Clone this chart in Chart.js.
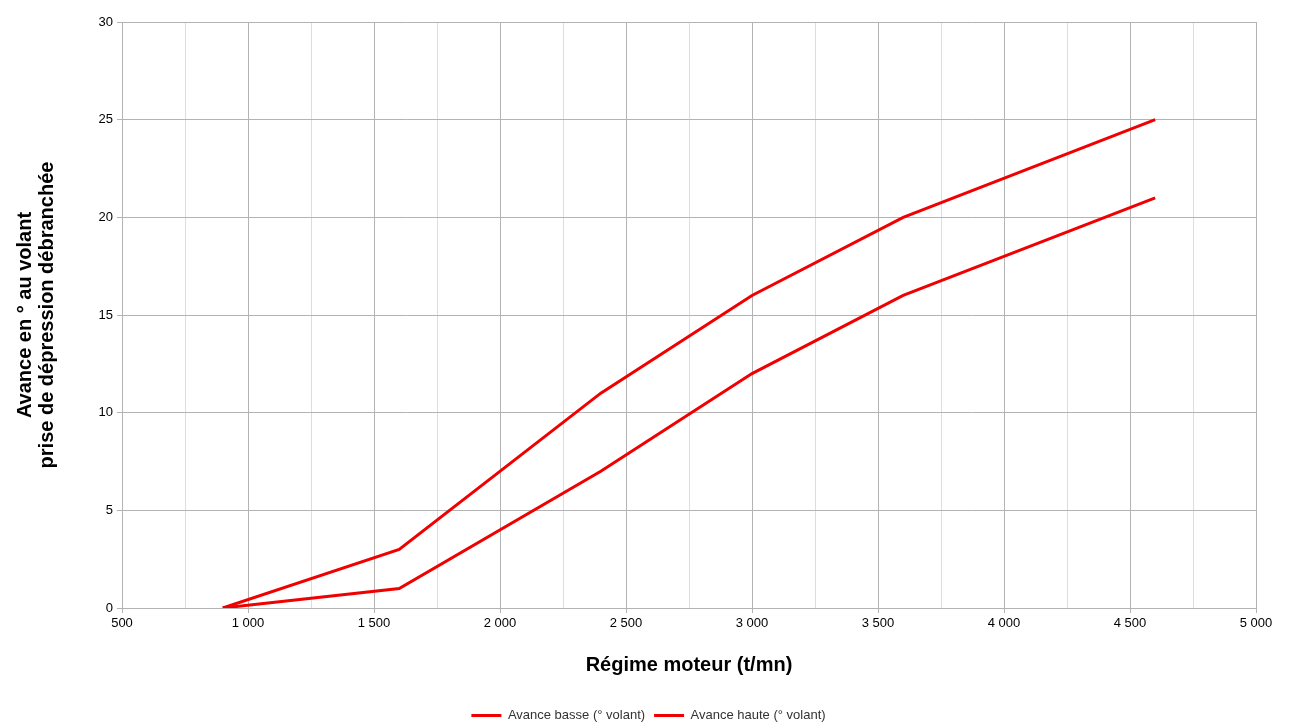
<!DOCTYPE html>
<html>
<head>
<meta charset="utf-8">
<script src="https://cdn.jsdelivr.net/npm/chart.js@4/dist/chart.umd.min.js"></script>
<style>
  html, body { margin: 0; padding: 0; background: #fff; }
  #wrap { width: 1297px; height: 726px; }
</style>
</head>
<body>
<div id="wrap"><canvas id="chart" width="1297" height="726"></canvas></div>
<script>
const regime = [900, 1600, 2400, 3000, 3600, 4600];
const avanceBasse = [0, 1, 7, 12, 16, 21];
const avanceHaute = [0, 3, 11, 16, 20, 25];
const seriesNames = ['Avance basse (° volant)', 'Avance haute (° volant)'];
const xTitle = 'Régime moteur (t/mn)';
const yTitle = ['Avance en ° au volant', 'prise de dépression débranchée'];

const MAJOR = '#b3b3b3';
const MINOR = '#dddddd';
const RED = '#f00000';

function fmt(v) {
    return String(v).replace(/\B(?=(\d{3})+(?!\d))/g, ' ');
}
function pts(ys) {
    return regime.map((x, i) => ({ x: x, y: ys[i] }));
}

new Chart(document.getElementById('chart').getContext('2d'), {
    type: 'line',
    data: {
        datasets: [
            { label: seriesNames[0], data: pts(avanceBasse), borderColor: RED, backgroundColor: RED, borderWidth: 3, pointRadius: 0, tension: 0 },
            { label: seriesNames[1], data: pts(avanceHaute), borderColor: RED, backgroundColor: RED, borderWidth: 3, pointRadius: 0, tension: 0 }
        ]
    },
    options: {
        responsive: false,
        animation: false,
        layout: { padding: { left: 0, right: 0, top: 22, bottom: -6 } },
        plugins: {
            tooltip: { enabled: false },
            legend: {
                position: 'bottom',
                labels: {
                    usePointStyle: true, pointStyle: 'line', pointStyleWidth: 30, boxHeight: 13,
                    color: '#333', font: { family: 'Liberation Sans', size: 13 }, padding: 9
                }
            }
        },
        scales: {
            x: {
                type: 'linear', min: 500, max: 5000,
                border: { color: MAJOR },
                grid: {
                    color: c => (c.tick && c.tick.value % 500 === 0) ? MAJOR : MINOR,
                    tickColor: c => (c.tick && c.tick.value % 500 === 0) ? MAJOR : 'rgba(0,0,0,0)',
                    tickLength: 5
                },
                ticks: {
                    stepSize: 250, autoSkip: false, maxRotation: 0, padding: 3,
                    color: '#000', font: { family: 'Liberation Sans', size: 13 },
                    callback: v => v % 500 === 0 ? fmt(v) : ''
                },
                title: {
                    display: true, text: xTitle, color: '#000',
                    font: { family: 'Liberation Sans', size: 20, weight: 'bold', lineHeight: 1.2 },
                    padding: { top: 20, bottom: 23 }
                },
                afterFit: s => { s.height = 92; }
            },
            y: {
                min: 0, max: 30,
                border: { color: MAJOR },
                grid: { color: MAJOR, tickColor: MAJOR, tickLength: 5 },
                ticks: {
                    stepSize: 5, padding: 4, color: '#000',
                    font: { family: 'Liberation Sans', size: 13 }
                },
                title: {
                    display: true, text: yTitle, color: '#000',
                    font: { family: 'Liberation Sans', size: 20, weight: 'bold', lineHeight: 1.1 },
                    padding: { top: 14, bottom: 0 }
                },
                afterFit: s => { s.width = 122; }
            },
            // empty right margin so the legend centres on the full page
            yRight: {
                position: 'right', min: 0, max: 30,
                grid: { display: false, drawTicks: false },
                border: { display: false },
                ticks: { display: false },
                afterFit: s => { s.width = 41; }
            }
        }
    }
});
</script>
</body>
</html>
